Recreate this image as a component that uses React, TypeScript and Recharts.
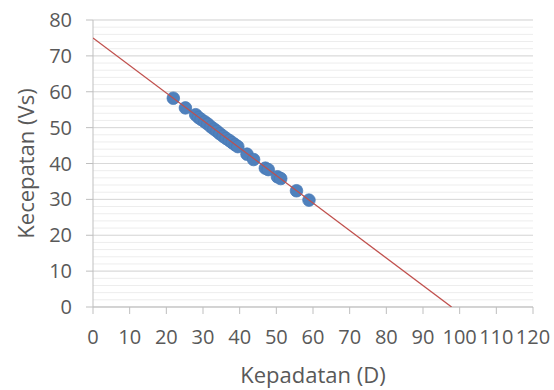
import React from 'react';
import { ScatterChart, Scatter, XAxis, YAxis, CartesianGrid, Label } from 'recharts';

const xTicks = [0, 10, 20, 30, 40, 50, 60, 70, 80, 90, 100, 110, 120];
const yTicks = [0, 10, 20, 30, 40, 50, 60, 70, 80];
const minorYTicks = [0, 2, 4, 6, 8, 10, 12, 14, 16, 18, 20, 22, 24, 26, 28, 30, 32, 34, 36, 38, 40, 42, 44, 46, 48, 50, 52, 54, 56, 58, 60, 62, 64, 66, 68, 70, 72, 74, 76, 78, 80];

const kepadatan = [21.9, 25.2, 28.0, 28.8, 29.5, 30.5, 31.3, 32.2, 33.0, 33.8, 34.6, 35.5, 36.3, 37.2, 38.0, 38.8, 39.5, 42.0, 43.8, 47.0, 47.8, 50.3, 51.2, 55.5, 58.9];
const kecepatan = [58.2, 55.5, 53.6, 52.8, 52.3, 51.6, 51.0, 50.2, 49.6, 49.0, 48.3, 47.6, 47.0, 46.4, 45.8, 45.2, 44.7, 42.6, 41.1, 38.7, 38.3, 36.3, 35.8, 32.4, 29.8];

const trendX = [0, 97.8];
const trendY = [75, 0];

const points = kepadatan.map((x, i) => ({ x, y: kecepatan[i] }));
const trend = trendX.map((x, i) => ({ x, y: trendY[i] }));

const FONT = '"Open Sans", sans-serif';
const TEXT = '#595959';

const Dot = (props: any) => (
  <circle cx={props.cx} cy={props.cy} r={6.3} fill="#4f81bd" stroke="#4a7ab5" strokeWidth={0.75} />
);
const NoDot = () => <g />;

const YTitle = (props: any) => {
  const vb = props.viewBox || {};
  const cx = vb.x + 25;
  const cy = vb.y + vb.height / 2;
  return (
    <text x={cx} y={cy} transform={`rotate(-90, ${cx}, ${cy})`} textAnchor="middle" dominantBaseline="central"
      fontFamily={FONT} fontSize={22} fill={TEXT}>Kecepatan (Vs)</text>
  );
};

const XTitle = (props: any) => {
  const vb = props.viewBox || {};
  return (
    <text x={vb.x + vb.width / 2} y={vb.y + vb.height - 7} textAnchor="middle"
      fontFamily={FONT} fontSize={22} fill={TEXT}>Kepadatan (D)</text>
  );
};

const minorGen = (args: any) => {
  const ax = args && args.yAxis;
  if (ax && typeof ax.scale === 'function') {
    return minorYTicks.map((v) => ax.scale(v));
  }
  const off = args.offset;
  return minorYTicks.map((v) => off.top + off.height * (1 - v / 80));
};

export default function App() {
  return (
    <div style={{ position: 'absolute', left: 0, top: 0, width: 554, height: 390, background: '#fff' }}>
      <ScatterChart width={554} height={390} margin={{ top: 20, right: 21, bottom: 0, left: 0 }}>
        <CartesianGrid vertical={false} stroke="#ededed" strokeWidth={1} horizontalCoordinatesGenerator={minorGen} />
        <CartesianGrid vertical={false} stroke="#d9d9d9" strokeWidth={1} />
        <XAxis type="number" dataKey="x" domain={[0, 120]} ticks={xTicks} interval={0} height={83}
          axisLine={{ stroke: '#bfbfbf' }} tickLine={{ stroke: '#bfbfbf' }} tickSize={7} tickMargin={16}
          tick={{ fontFamily: FONT, fontSize: 20, fill: TEXT }} allowDataOverflow>
          <Label content={<XTitle />} />
        </XAxis>
        <YAxis type="number" dataKey="y" domain={[0, 80]} ticks={yTicks} interval={0} width={93}
          axisLine={{ stroke: '#bfbfbf' }} tickLine={{ stroke: '#bfbfbf' }} tickSize={7} tickMargin={14}
          tick={{ fontFamily: FONT, fontSize: 20, fill: TEXT }} allowDataOverflow>
          <Label content={<YTitle />} />
        </YAxis>
        <Scatter data={points} shape={<Dot />} isAnimationActive={false} />
        <Scatter data={trend} shape={<NoDot />} line={{ stroke: '#c0504d', strokeWidth: 1.3 }} isAnimationActive={false} />
      </ScatterChart>
    </div>
  );
}
